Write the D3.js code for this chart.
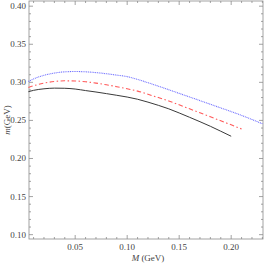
<!DOCTYPE html>
<html>
<head>
<meta charset="utf-8">
<script src="https://cdn.jsdelivr.net/npm/d3@7"></script>
<style>
  body { margin: 0; background: #fff; }
  svg text { font-family: 'Liberation Serif', 'DejaVu Serif', serif; }
</style>
</head>
<body>
<div id="chart"></div>
<script>
// curve data
var xBlue = [0.005, 0.01, 0.02, 0.03, 0.04, 0.05, 0.06, 0.07, 0.08, 0.09, 0.10, 0.11, 0.12, 0.13, 0.14, 0.15, 0.16, 0.17, 0.18, 0.19, 0.20, 0.21, 0.22, 0.23]
var yBlue = [0.3010, 0.3045, 0.3092, 0.3122, 0.3138, 0.3142, 0.3138, 0.3128, 0.3113, 0.3095, 0.3075, 0.3038, 0.2995, 0.2950, 0.2903, 0.2855, 0.2808, 0.2760, 0.2712, 0.2664, 0.2616, 0.2566, 0.2512, 0.2456]

var xRed = [0.005, 0.01, 0.02, 0.03, 0.04, 0.05, 0.06, 0.07, 0.08, 0.09, 0.10, 0.11, 0.12, 0.13, 0.14, 0.15, 0.16, 0.17, 0.18, 0.19, 0.20, 0.21]
var yRed = [0.2932, 0.2955, 0.2990, 0.3011, 0.3020, 0.3018, 0.3008, 0.2990, 0.2968, 0.2943, 0.2915, 0.2885, 0.2843, 0.2800, 0.2755, 0.2705, 0.2652, 0.2600, 0.2548, 0.2495, 0.2442, 0.2388]

var xBlack = [0.005, 0.01, 0.02, 0.03, 0.04, 0.05, 0.06, 0.07, 0.08, 0.09, 0.10, 0.11, 0.12, 0.13, 0.14, 0.15, 0.16, 0.17, 0.18, 0.19, 0.20]
var yBlack = [0.2877, 0.2895, 0.2915, 0.2924, 0.2922, 0.2912, 0.2892, 0.2873, 0.2852, 0.2830, 0.2807, 0.2778, 0.2740, 0.2698, 0.2652, 0.2598, 0.2541, 0.2483, 0.2423, 0.2358, 0.2292]

var xTicks = [0.05, 0.10, 0.15, 0.20]
var yTicks = [0.10, 0.15, 0.20, 0.25, 0.30, 0.35, 0.40]

var chart = {}
chart.width = 267
chart.height = 264
chart.margin = { left: 29, right: 4, top: 1, bottom: 25 }

var svg = d3.select('#chart').append('svg')
  .attr('width', chart.width)
  .attr('height', chart.height)

var iw = chart.width - chart.margin.left - chart.margin.right
var ih = chart.height - chart.margin.top - chart.margin.bottom

var x = d3.scaleLinear().domain([0.0056, 0.2306]).range([0, iw])
var y = d3.scaleLinear().domain([0.0943, 0.4068]).range([ih, 0])

var g = svg.append('g')
  .attr('transform', 'translate(' + chart.margin.left + ',' + chart.margin.top + ')')

var frameColor = '#8c8c8c'
var minorX = d3.range(0.01, 0.231, 0.01)
var minorY = d3.range(0.10, 0.405, 0.01)

function isMajor (v, step) {
  return Math.abs(v / step - Math.round(v / step)) < 1e-6
}

// ticks on all four sides, pointing inward
var tickG = g.append('g').attr('stroke', frameColor).attr('stroke-width', 0.8)
minorX.forEach(function (v) {
  var len = isMajor(v, 0.05) ? 4 : 2
  tickG.append('line').attr('x1', x(v)).attr('x2', x(v)).attr('y1', ih).attr('y2', ih - len)
  tickG.append('line').attr('x1', x(v)).attr('x2', x(v)).attr('y1', 0).attr('y2', len)
})
minorY.forEach(function (v) {
  var len = isMajor(v, 0.05) ? 4 : 2
  tickG.append('line').attr('y1', y(v)).attr('y2', y(v)).attr('x1', 0).attr('x2', len)
  tickG.append('line').attr('y1', y(v)).attr('y2', y(v)).attr('x1', iw).attr('x2', iw - len)
})

g.append('rect')
  .attr('x', 0).attr('y', 0)
  .attr('width', iw).attr('height', ih)
  .attr('fill', 'none')
  .attr('stroke', frameColor)
  .attr('stroke-width', 0.8)

// tick labels
g.selectAll('.xlab').data(xTicks).enter().append('text')
  .attr('x', function (d) { return x(d) })
  .attr('y', ih + 11)
  .attr('text-anchor', 'middle')
  .attr('font-size', 9)
  .attr('fill', '#444')
  .text(function (d) { return d.toFixed(2) })

g.selectAll('.ylab').data(yTicks).enter().append('text')
  .attr('x', -3)
  .attr('y', function (d) { return y(d) + 3 })
  .attr('text-anchor', 'end')
  .attr('font-size', 9)
  .attr('fill', '#444')
  .text(function (d) { return d.toFixed(2) })

// axis titles
var xt = svg.append('text')
  .attr('x', 148).attr('y', 261)
  .attr('text-anchor', 'middle')
  .attr('font-size', 9)
  .attr('fill', '#444')
xt.append('tspan').attr('font-style', 'italic').text('M')
xt.append('tspan').text(' (GeV)')

var yt = svg.append('text')
  .attr('transform', 'translate(9.5,120) rotate(-90)')
  .attr('text-anchor', 'middle')
  .attr('font-size', 9)
  .attr('fill', '#444')
yt.append('tspan').attr('font-style', 'italic').text('m')
yt.append('tspan').text('(GeV)')

// curves
var line = d3.line()
  .x(function (d) { return x(d[0]) })
  .y(function (d) { return y(d[1]) })
  .curve(d3.curveMonotoneX)

var series = [
  { xs: xBlue, ys: yBlue, color: '#7070ff', dash: '1,0.8', width: 1.1 },
  { xs: xRed, ys: yRed, color: '#ff5a5a', dash: '4.5,2.5,1.5,2.5', width: 1.1 },
  { xs: xBlack, ys: yBlack, color: '#3a3a3a', dash: null, width: 1 }
]

series.forEach(function (s) {
  var pts = s.xs.map(function (v, i) { return [v, s.ys[i]] })
  g.append('path')
    .datum(pts)
    .attr('d', line)
    .attr('fill', 'none')
    .attr('stroke', s.color)
    .attr('stroke-width', s.width)
    .attr('stroke-dasharray', s.dash)
})
</script>
</body>
</html>
